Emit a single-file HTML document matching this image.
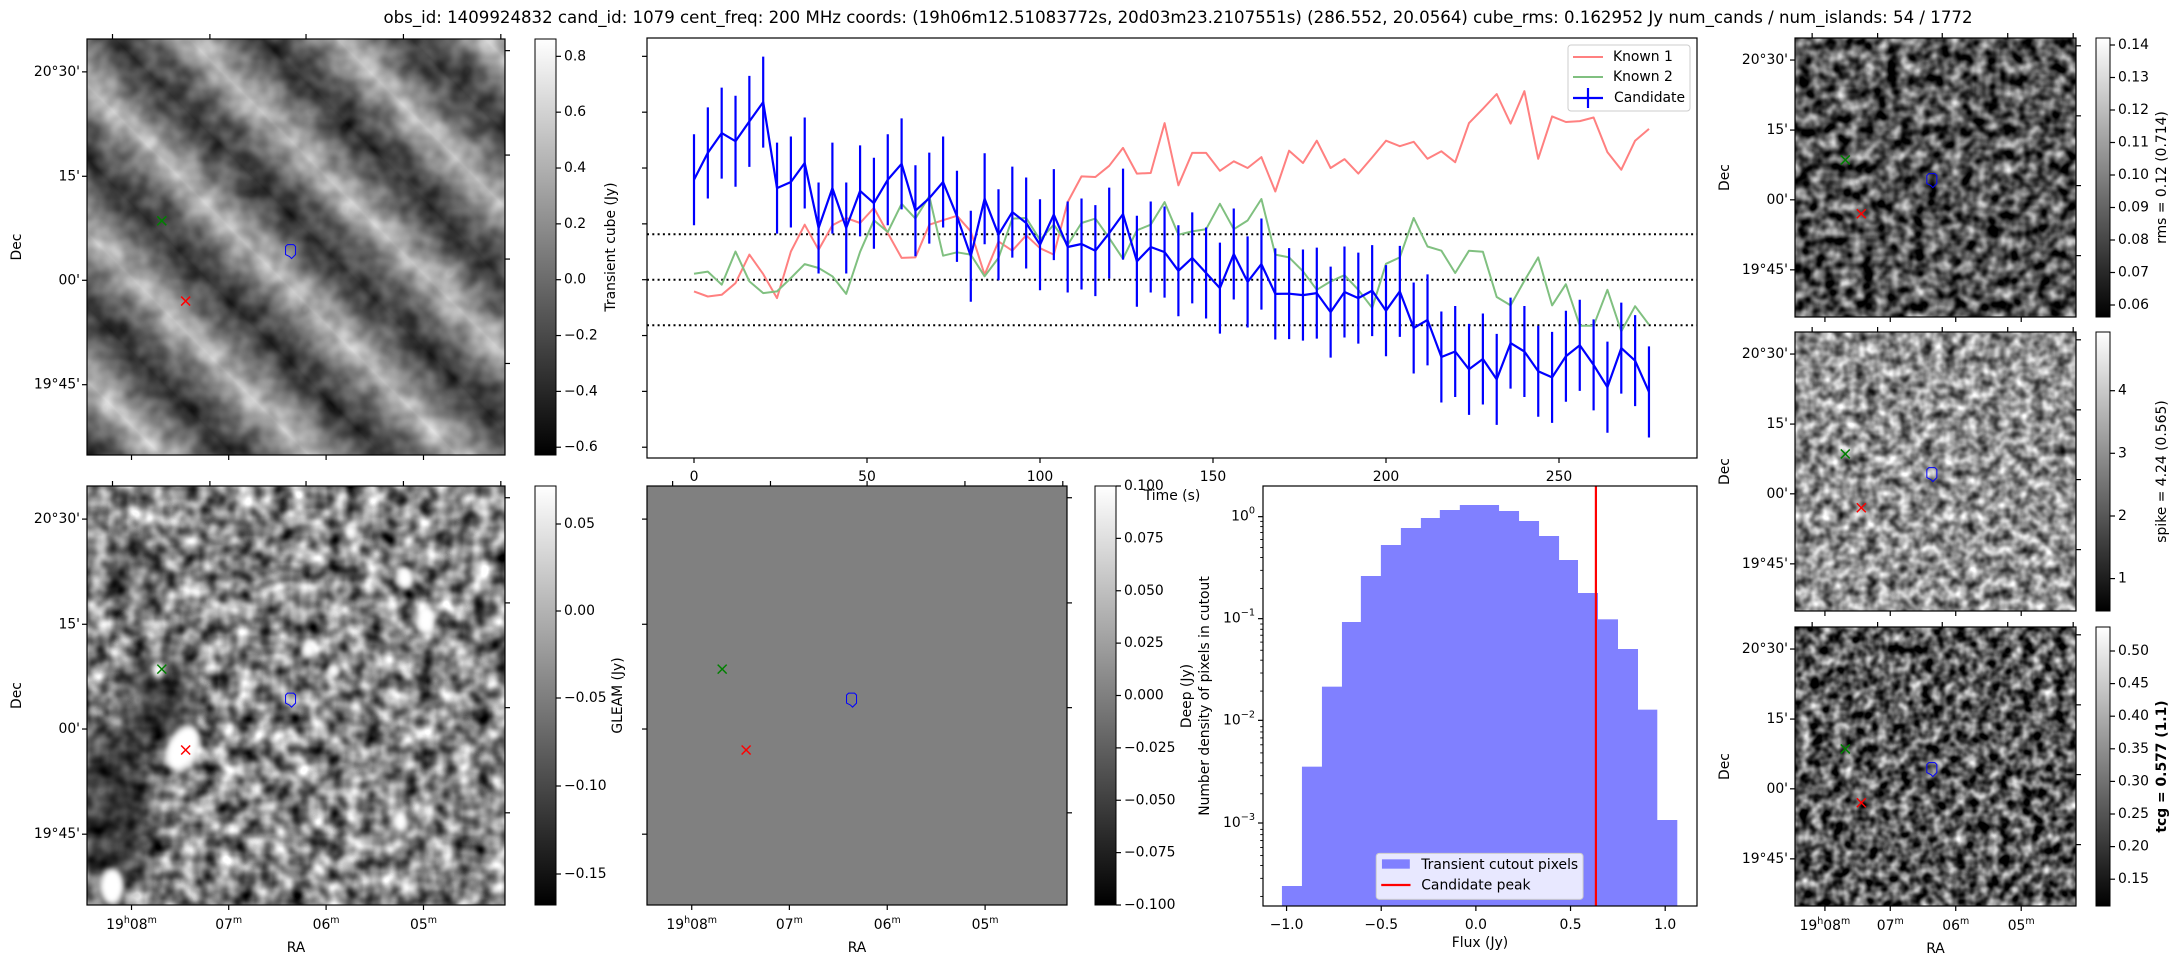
<!DOCTYPE html>
<html><head><meta charset="utf-8">
<style>
html,body{margin:0;padding:0;background:#fff;}
svg{display:block;font-family:"DejaVu Sans","Liberation Sans",sans-serif;}
</style></head>
<body>
<svg id="s" xmlns="http://www.w3.org/2000/svg" width="2179" height="960" viewBox="0 0 2179 960">
<defs>
<linearGradient id="cbar" x1="0" y1="0" x2="0" y2="1">
<stop offset="0" stop-color="#fff"/><stop offset="1" stop-color="#000"/>
</linearGradient>
<linearGradient id="stripes" gradientUnits="userSpaceOnUse" x1="87" y1="455" x2="161" y2="381" spreadMethod="repeat">
<stop offset="0" stop-color="#151515"/><stop offset="0.25" stop-color="#5a5a5a"/><stop offset="0.5" stop-color="#dcdcdc"/><stop offset="0.75" stop-color="#707070"/><stop offset="1" stop-color="#151515"/>
</linearGradient>
<clipPath id="cTL"><rect x="87" y="39" width="418" height="416"/></clipPath>
<clipPath id="cBL"><rect x="87" y="486" width="418" height="419"/></clipPath>
<filter id="blur" x="-50%" y="-50%" width="200%" height="200%"><feGaussianBlur stdDeviation="14"/></filter>
<filter id="blur2" x="-50%" y="-50%" width="200%" height="200%"><feGaussianBlur stdDeviation="3"/></filter>
</defs>
<rect width="2179" height="960" fill="#fff"/>
<text x="1178" y="23" font-size="16.7" text-anchor="middle" textLength="1589" lengthAdjust="spacingAndGlyphs">obs_id: 1409924832 cand_id: 1079 cent_freq: 200 MHz coords: (19h06m12.51083772s, 20d03m23.2107551s) (286.552, 20.0564) cube_rms: 0.162952 Jy num_cands / num_islands: 54 / 1772</text>
<g id="g"></g>
</svg>
<script>
(function(){
var NS="http://www.w3.org/2000/svg";
var g=document.getElementById('g');
var defs=document.querySelector('defs');
function el(tag,attrs,parent,text){var e=document.createElementNS(NS,tag);for(var k in attrs)e.setAttribute(k,attrs[k]);if(text!==undefined)e.textContent=text;(parent||g).appendChild(e);return e;}
function line(x1,y1,x2,y2,st,w,extra){var a={x1:x1,y1:y1,x2:x2,y2:y2,stroke:st||'#000','stroke-width':w||1.2};if(extra)for(var k in extra)a[k]=extra[k];return el('line',a);}
function txt(x,y,s,opts){opts=opts||{};var a={x:x,y:y,'font-size':opts.fs||13.9,'text-anchor':opts.anchor||'middle','dominant-baseline':'central',fill:'#000'};if(opts.weight)a['font-weight']=opts.weight;return el('text',a,opts.parent,s);}
function vtxt(x,y,s,opts){opts=opts||{};var a={transform:'translate('+x+','+y+') rotate(-90)','font-size':opts.fs||13.9,'text-anchor':'middle','dominant-baseline':'central'};if(opts.weight)a['font-weight']=opts.weight;return el('text',a,null,s);}
function noiseFilter(id,x,y,w,h,freq,oct,slope,inter,seed){
  var f=el('filter',{id:id,filterUnits:'userSpaceOnUse',x:x,y:y,width:w,height:h,'color-interpolation-filters':'sRGB'},defs);
  el('feTurbulence',{type:'fractalNoise',baseFrequency:freq,numOctaves:oct,seed:seed},f);
  el('feColorMatrix',{type:'matrix',values:'1 0 0 0 0 1 0 0 0 0 1 0 0 0 0 0 0 0 0 1'},f);
  var ct=el('feComponentTransfer',{},f);
  ['feFuncR','feFuncG','feFuncB'].forEach(function(n){el(n,{type:'linear',slope:slope,intercept:inter},ct);});
}
function markers(x0,y0,w,h){
  var gx=x0+0.179*w, gy=y0+0.437*h, rx=x0+0.236*w, ry=y0+0.63*h, bx=x0+0.487*w, by=y0+0.511*h;
  var s=4.5;
  line(gx-s,gy-s,gx+s,gy+s,'#008000',1.5);line(gx-s,gy+s,gx+s,gy-s,'#008000',1.5);
  line(rx-s,ry-s,rx+s,ry+s,'#ff0000',1.5);line(rx-s,ry+s,rx+s,ry-s,'#ff0000',1.5);
  el('path',{d:'M'+(bx-5)+','+(by-5)+' L'+(bx-3)+','+(by-7)+' L'+(bx+3)+','+(by-7)+' L'+(bx+5)+','+(by-5)+' L'+(bx+5)+','+(by+3)+' L'+(bx+1)+','+(by+7)+' L'+(bx-1)+','+(by+5)+' L'+(bx-5)+','+(by+3)+' Z',fill:'none',stroke:'#0000ff','stroke-width':1});
}
var decF=[0.079,0.330,0.580,0.831], decL=["20°30'","15'","00'","19°45'"];
var raF=[0.1065,0.339,0.572,0.805];
var topF=[0.061,0.294,0.524,0.757,0.99], rightF=[0.028,0.279,0.529,0.78];
function axesDeco(x0,y0,w,h,showDec,showRA){
  el('rect',{x:x0,y:y0,width:w,height:h,fill:'none',stroke:'#000','stroke-width':1.2});
  decF.forEach(function(f,i){var y=y0+f*h;line(x0-5,y,x0,y);if(showDec)txt(x0-7,y,decL[i],{anchor:'end'});});
  raF.forEach(function(f){var x=x0+f*w;line(x,y0+h,x,y0+h+5);});
  topF.forEach(function(f){var x=x0+f*w;line(x,y0-5,x,y0);});
  rightF.forEach(function(f){var y=y0+f*h;line(x0+w,y,x0+w+5,y);});
  if(showDec)vtxt(x0-70,y0+h/2,'Dec');
  if(showRA){var labs=['08','07','06','05'];raF.forEach(function(f,i){var x=x0+f*w;
    var t=el('text',{x:x,y:y0+h+20,'font-size':13.9,'text-anchor':'middle','dominant-baseline':'central'});
    if(i==0){t.appendChild(document.createTextNode('19'));el('tspan',{'font-size':9.5,dy:-5},t,'h');el('tspan',{'font-size':13.9,dy:5},t,'08');el('tspan',{'font-size':9.5,dy:-5},t,'m');}
    else{t.appendChild(document.createTextNode(labs[i]));el('tspan',{'font-size':9.5,dy:-5},t,'m');}
  });
  txt(x0+w/2,y0+h+43,'RA');}
}
function colorbar(x0,y0,w,h,ticks,label,lx,opts){
  el('rect',{x:x0,y:y0,width:w,height:h,fill:'url(#cbar)',stroke:'#000','stroke-width':1});
  ticks.forEach(function(t){line(x0+w,t[1],x0+w+5,t[1]);txt(x0+w+8,t[1],t[0],{anchor:'start'});});
  if(label)vtxt(lx,y0+h/2,label,opts);
}
// ---------- TL image ----------
el('rect',{x:87,y:39,width:418,height:416,fill:'url(#stripes)'});
noiseFilter('nTL',87,39,418,416,0.05,2,1.6,-0.3,7);
el('rect',{x:87,y:39,width:418,height:416,filter:'url(#nTL)',opacity:0.28});
markers(87,39,418,416);
axesDeco(87,39,418,416,true,false);
var tl=[];for(var v=0.8;v>-0.7;v-=0.2){var vv=Math.round(v*10)/10;tl.push([(vv<0?'\u2212':'')+Math.abs(vv).toFixed(1),279.7-279.2*vv]);}
colorbar(535,39,21,416,tl,'Transient cube (Jy)',611);
// ---------- BL image ----------
noiseFilter('nBL',87,486,418,419,0.055,2,1.5,-0.22,3);
el('rect',{x:87,y:486,width:418,height:419,filter:'url(#nBL)'});
var cg=el('g',{'clip-path':'url(#cBL)'});
[[0.17,0.52,35,50,0.6],[0.06,0.78,40,90,0.6],[0.1,0.2,30,40,0.3]].forEach(function(b){el('ellipse',{cx:87+b[0]*418,cy:486+b[1]*419,rx:b[2],ry:b[3],fill:'#000',opacity:b[4],filter:'url(#blur)'},cg);});
[[0.23,0.625,15,24,25],[0.06,0.955,12,18,0],[0.76,0.22,8,10,0],[0.81,0.32,9,13,0],[0.53,0.39,7,8,0],[0.75,0.8,7,11,0],[0.17,0.44,6,8,0],[0.63,0.11,6,7,0],[0.59,0.44,6,7,0]].forEach(function(b){
 el('ellipse',{cx:87+b[0]*418,cy:486+b[1]*419,rx:b[2],ry:b[3],fill:'#fff',filter:'url(#blur2)',transform:'rotate('+b[4]+','+(87+b[0]*418)+','+(486+b[1]*419)+')'},cg);});
markers(87,486,418,419);
axesDeco(87,486,418,419,true,true);
colorbar(535,486,21,419,[['0.05',524],['0.00',611],['\u22120.05',698],['\u22120.10',786],['\u22120.15',874]],'GLEAM (Jy)',618);
// ---------- GLEAM ----------
el('rect',{x:647,y:486,width:420,height:419,fill:'#808080'});
markers(647,486,420,419);
axesDeco(647,486,420,419,false,true);
var gt=[];for(var i=0;i<9;i++){var vv=0.1-0.025*i;gt.push([(vv<-1e-9?'\u2212':'')+Math.abs(vv).toFixed(3),486+i*419/8]);}
colorbar(1095,486,21,419,gt,null);
// ---------- right column ----------
var R=[[38,0.08,2,1.5,-0.42,11],[332,0.09,2,1.3,-0.08,5],[627,0.09,2,1.6,-0.45,9]];
R.forEach(function(r,k){noiseFilter('nR'+k,1795,r[0],281,279,r[1],r[2],r[3],r[4],r[5]);el('rect',{x:1795,y:r[0],width:281,height:279,filter:'url(#nR'+k+')'});
 markers(1795,r[0],281,279);axesDeco(1795,r[0],281,279,true,k==2);});
var r1=[];for(var i=0;i<9;i++)r1.push([(0.14-0.01*i).toFixed(2),45+i*32.5]);
colorbar(2096,38,14,279,r1,'rms = 0.12 (0.714)',2162);
colorbar(2096,332,14,279,[['4',390.7],['3',453.3],['2',516],['1',578.6]],'spike = 4.24 (0.565)',2162);
var r3=[];for(var i=0;i<8;i++)r3.push([(0.5-0.05*i).toFixed(2),651+i*32.6]);
colorbar(2096,627,14,279,r3,'tcg = 0.577 (1.1)',2162,{weight:'bold'});
// ---------- line chart ----------
var X0=647,Y0=38,X1=1697,Y1=458;
el('rect',{x:X0,y:Y0,width:X1-X0,height:Y1-Y0,fill:'#fff'});
function yv(v){return 279.7-279.2*v;}
function xi(i){return 694+13.84*i;}
[0.8,0.6,0.4,0.2,0,-0.2,-0.4,-0.6].forEach(function(v){line(X0-5,yv(v),X0,yv(v));});
[0,50,100,150,200,250].forEach(function(t){var x=694+3.46*t;line(x,Y1,x,Y1+5);txt(x,Y1+19,String(t));});
txt(1172,496,'Time (s)');
[0.163,0,-0.163].forEach(function(v){line(X0,yv(v),X1,yv(v),'#000',2,{'stroke-dasharray':'2,3.3'});});
var B=[.358,.454,.525,.496,.567,.636,.328,.350,.418,.185,.328,.185,.318,.274,.358,.415,.247,.292,.350,.227,.084,.290,.161,.242,.203,.125,.233,.117,.128,.104,.167,.235,.066,.117,.099,.032,.078,.024,-.030,.092,-.008,.056,-.051,-.050,-.055,-.048,-.116,-.044,-.066,-.039,-.111,-.042,-.173,-.144,-.277,-.257,-.321,-.284,-.357,-.227,-.257,-.328,-.350,-.274,-.235,-.305,-.385,-.245,-.290,-.402];
var Rd=[-.042,-.060,-.054,-.012,.090,.020,-.066,.101,.197,.107,.195,.221,.203,.257,.167,.078,.080,.197,.213,.229,.173,.018,.137,.104,.159,.113,.090,.278,.370,.368,.408,.472,.380,.382,.561,.338,.454,.454,.390,.424,.400,.439,.316,.462,.418,.498,.400,.432,.380,.438,.498,.478,.494,.433,.460,.421,.561,.612,.665,.559,.675,.433,.585,.565,.568,.581,.457,.394,.498,.540];
var Gr=[.021,.029,-.018,.101,-.006,-.048,-.042,.006,.056,.042,.012,-.051,.10,.213,.171,.272,.219,.299,.086,.098,.090,.012,.078,.219,.221,.143,.197,.125,.203,.219,.149,.075,.177,.197,.278,.161,.173,.181,.272,.181,.212,.289,.090,.080,.030,-.036,-.006,.016,-.036,-.101,.057,.080,.221,.119,.104,.024,.104,.100,-.062,-.092,-.004,.080,-.092,-.016,-.165,-.165,-.036,-.185,-.095,-.161];
function pl(arr,col,w){var p=arr.map(function(v,i){return xi(i).toFixed(1)+','+yv(v).toFixed(1);}).join(' ');el('polyline',{points:p,fill:'none',stroke:col,'stroke-width':w,'stroke-linejoin':'round'});}
pl(Rd,'#ff8080',2);pl(Gr,'#80c080',2);
B.forEach(function(v,i){line(xi(i),yv(v+0.163),xi(i),yv(v-0.163),'#0000ff',2.2);});
pl(B,'#0000ff',2.2);
el('rect',{x:X0,y:Y0,width:X1-X0,height:Y1-Y0,fill:'none',stroke:'#000','stroke-width':1.2});
el('rect',{x:1568,y:45,width:122,height:66,rx:3,fill:'#fff',stroke:'#ccc','stroke-width':1});
line(1573,57,1603,57,'#ff8080',2);txt(1613,57,'Known 1',{anchor:'start'});
line(1573,77,1603,77,'#80c080',2);txt(1613,77,'Known 2',{anchor:'start'});
line(1573,98,1603,98,'#0000ff',2.2);line(1588,88,1588,108,'#0000ff',2.2);txt(1614,98,'Candidate',{anchor:'start'});
// ---------- histogram ----------
var HX=1263,HY=486,HW=434,HH=420;
function hx(zx){return HX+(zx-317)/1215*HW;} function hy(zy){return HY+(zy-78)/1260*HH;}
var bars=[[370,426,1278],[426,482,920],[482,538,680],[538,591,486],[591,647,348],[647,703,255],[703,759,204],[759,812,174],[812,868,150],[868,977,135],[977,1033,153],[1033,1089,183],[1089,1145,228],[1145,1198,300],[1198,1254,399],[1254,1310,478],[1310,1366,567],[1366,1420,749],[1420,1476,1080]];
bars.forEach(function(b){el('rect',{x:hx(b[0]),y:hy(b[2]),width:hx(b[1])-hx(b[0])+0.3,height:hy(1338)-hy(b[2]),fill:'#8080ff'});});
line(hx(1249),HY,hx(1249),HY+HH,'#ff0000',2.2);
el('rect',{x:HX,y:HY,width:HW,height:HH,fill:'none',stroke:'#000','stroke-width':1.2});
var maj=[[170,'0'],[476,'\u22121'],[781,'\u22122'],[1089,'\u22123']];
maj.forEach(function(m){var y=hy(m[0]);line(HX-5,y,HX,y);var t=el('text',{x:HX-8,y:y,'font-size':13.9,'text-anchor':'end','dominant-baseline':'central'});t.appendChild(document.createTextNode('10'));el('tspan',{'font-size':9.7,dy:-6},t,m[1]);});
var dec_=(1089-781);
for(var d=0;d<5;d++){for(var k=2;k<10;k++){var y0z=170+(d-1)*dec_; var yy=y0z+dec_*(1-Math.log10(k)); if(yy>78&&yy<1338){line(HX-2.8,hy(yy),HX,hy(yy),'#000',0.9);}}}
[-1,-0.5,0,0.5,1].forEach(function(f){var x=HX+(0.4905+0.4362*f)*HW;line(x,HY+HH,x,HY+HH+5);txt(x,HY+HH+19,(f<0?'\u2212':'')+Math.abs(f).toFixed(1));});
txt(HX+HW/2,943,'Flux (Jy)');
vtxt(1205,696,'Number density of pixels in cutout');
vtxt(1187,696,'Deep (Jy)');
el('rect',{x:hx(634),y:hy(1180),width:hx(1213)-hx(634),height:hy(1318)-hy(1180),rx:3,fill:'#e8e8ff',stroke:'#ccc','stroke-width':1});
el('rect',{x:hx(650),y:hy(1198),width:hx(728)-hx(650),height:hy(1226)-hy(1198),fill:'#8080ff'});
txt(hx(760),hy(1215),'Transient cutout pixels',{anchor:'start'});
line(hx(648),hy(1275),hx(730),hy(1275),'#ff0000',2.2);
txt(hx(760),hy(1277),'Candidate peak',{anchor:'start'});
})();
</script>
</body></html>
